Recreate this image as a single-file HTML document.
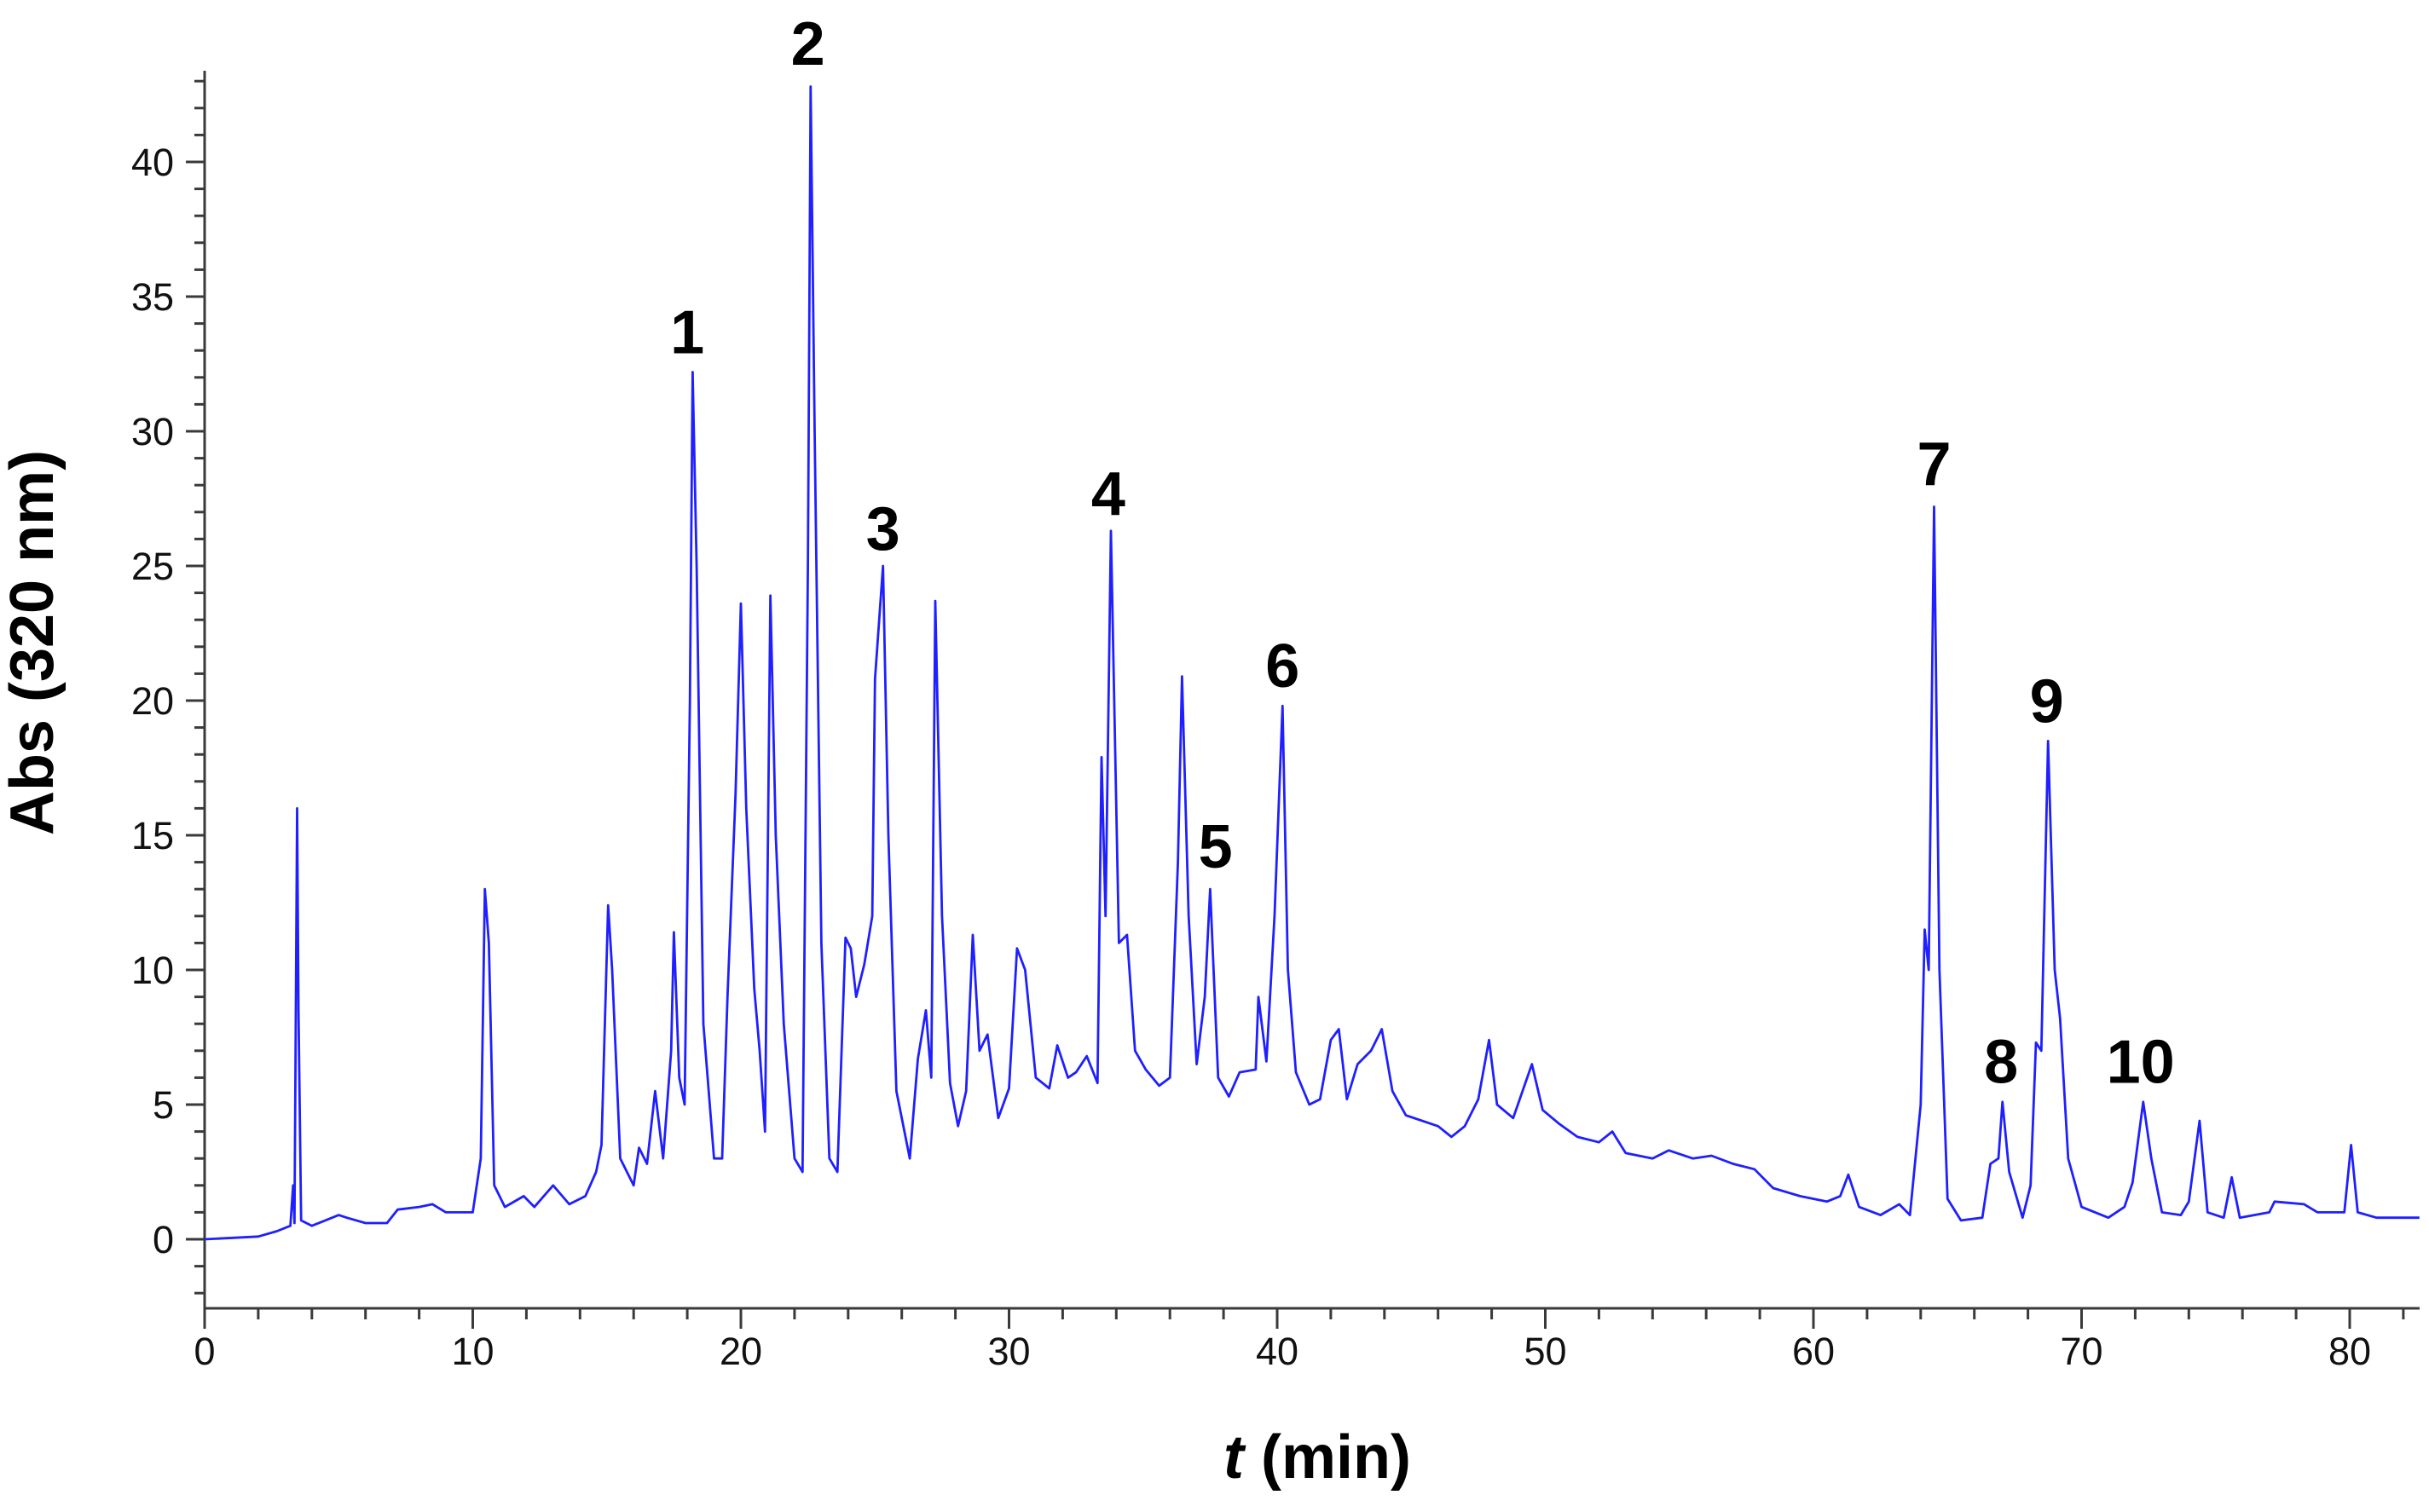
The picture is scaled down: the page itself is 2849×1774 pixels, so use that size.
<!DOCTYPE html>
<html><head><meta charset="utf-8"><style>
html,body{margin:0;padding:0;background:#fff}
svg{display:block}
</style></head><body>
<svg id="chart" width="2849" height="1774" viewBox="0 0 2849 1774" xmlns="http://www.w3.org/2000/svg">
<g id="axes"></g>
<path id="trace" fill="none" stroke="#1f1fff" stroke-width="2.8" stroke-linejoin="round"/>
<g id="labels"></g>
<text transform="translate(62,754) rotate(-90)" text-anchor="middle" font-family="Liberation Sans, sans-serif" font-weight="bold" font-size="72">Abs (320 nm)</text>
<text x="1545" y="1734" text-anchor="middle" font-family="Liberation Sans, sans-serif" font-weight="bold" font-size="72"><tspan font-style="italic">t</tspan> (min)</text>
</svg>
<script>
const times=[0,2,2.7,3.2,3.3,3.35,3.45,3.5,3.6,4,5,5.3,6,6.8,7.2,8,8.5,9,10,10.3,10.45,10.6,10.8,11.2,11.9,12.3,13,13.6,14.2,14.6,14.8,15.05,15.2,15.5,16,16.2,16.5,16.8,17.1,17.4,17.5,17.7,17.9,18.1,18.2,18.35,18.6,19,19.3,19.5,19.8,20,20.2,20.5,20.7,20.9,21.1,21.3,21.6,22,22.3,22.5,22.6,22.75,23,23.3,23.6,23.9,24.1,24.3,24.6,24.9,25.0,25.3,25.5,25.8,26,26.3,26.6,26.9,27.1,27.25,27.5,27.8,28.1,28.4,28.65,28.9,29.2,29.6,30,30.3,30.6,31,31.5,31.8,32.2,32.5,32.9,33.3,33.45,33.6,33.8,34.1,34.4,34.7,35.1,35.6,36.0,36.3,36.45,36.7,37,37.3,37.5,37.8,38.2,38.6,39.2,39.3,39.6,39.9,40.2,40.4,40.7,41.2,41.6,42,42.3,42.6,43,43.5,43.9,44.3,44.8,46,46.5,47,47.5,47.9,48.2,48.8,49.5,49.9,50.5,51.2,52,52.5,53,54,54.6,55.5,56.2,57,57.8,58.5,59.5,60.5,61,61.3,61.7,62.5,63.2,63.6,64.0,64.15,64.3,64.5,64.7,65,65.5,66.3,66.6,66.9,67.05,67.3,67.8,68.1,68.3,68.5,68.75,69,69.2,69.5,70,71,71.6,71.9,72.3,72.6,73,73.7,74,74.4,74.7,75.3,75.6,75.9,77,77.2,78.3,78.8,79.8,80.05,80.3,81,82.6];
const absorb=[0,0.1,0.3,0.5,2,0.6,16,8.5,0.7,0.5,0.9,0.8,0.6,0.6,1.1,1.2,1.3,1.0,1.0,3,13,11,2,1.2,1.6,1.2,2.0,1.3,1.6,2.5,3.5,12.4,10,3,2,3.4,2.8,5.5,3,7,11.4,6,5,20,32.2,25,8,3,3,9,16.5,23.6,16,9.3,7,4,23.9,15,8,3,2.5,25,42.8,30,11,3,2.5,11.2,10.8,9,10.2,12,20.8,25,15,5.5,4.5,3,6.7,8.5,6,23.7,12,5.8,4.2,5.5,11.3,7,7.6,4.5,5.6,10.8,10,6,5.6,7.2,6,6.2,6.8,5.8,17.9,12,26.3,11,11.3,7,6.3,5.7,6,14,20.9,12,6.5,9,13,6,5.3,6.2,6.3,9,6.6,12,19.8,10,6.2,5,5.2,7.4,7.8,5.2,6.5,7,7.8,5.5,4.6,4.2,3.8,4.2,5.2,7.4,5,4.5,6.5,4.8,4.3,3.8,3.6,4,3.2,3,3.3,3.0,3.1,2.8,2.6,1.9,1.6,1.4,1.6,2.4,1.2,0.9,1.3,0.9,5,11.5,10,27.2,10,1.5,0.7,0.8,2.8,3,5.1,2.5,0.8,2,7.3,7,18.5,10,8.2,3,1.2,0.8,1.2,2.1,5.1,3,1,0.9,1.4,4.4,1,0.8,2.3,0.8,1.0,1.4,1.3,1,1,3.5,1,0.8,0.8];
const xTickVals=[0,10,20,30,40,50,60,70,80];
const yTickVals=[0,5,10,15,20,25,30,35,40];
const peakNames=["1","2","3","4","5","6","7","8","9","10"];
const peakT=[18.0,22.5,25.3,33.7,37.7,40.2,64.5,67.0,68.7,72.2];
const peakV=[32.9,43.6,25.6,26.9,13.8,20.5,28.0,5.8,19.2,5.8];

const X0=240,XS=31.45,Y0=1454,YS=31.6;
const xs=t=>X0+t*XS, ys=v=>Y0-v*YS;
const NS="http://www.w3.org/2000/svg";
const axes=document.getElementById('axes');
function el(tag,attrs,parent){const e=document.createElementNS(NS,tag);for(const k in attrs)e.setAttribute(k,attrs[k]);parent.appendChild(e);return e;}
const col="#3a3a3a";
const ya=el('line',{x1:X0,y1:83,x2:X0,y2:1535,stroke:col,'stroke-width':3},axes);


const xa=el('line',{x1:X0,y1:1535,x2:2838,y2:1535,stroke:col,'stroke-width':3},axes);


for(let v=-2;v<=43;v++){
  const maj=v%5===0&&v>=0;
  const t=el('line',{x1:X0-(maj?22:12),y1:ys(v),x2:X0,y2:ys(v),stroke:col,'stroke-width':3},axes);
  
  
}
yTickVals.forEach(v=>{
  const t=el('text',{x:204,y:ys(v)+16,'text-anchor':'end','font-family':'Liberation Sans, sans-serif','font-size':45,fill:'#111'},axes);
  t.textContent=v;
  
  
});
for(let m=0;m<=82;m+=2){
  const maj=m%10===0;
  const t=el('line',{x1:xs(m),y1:1535,x2:xs(m),y2:1535+(maj?24:13),stroke:col,'stroke-width':3},axes);
  
  
}
xTickVals.forEach(v=>{
  const t=el('text',{x:xs(v),y:1601,'text-anchor':'middle','font-family':'Liberation Sans, sans-serif','font-size':45,fill:'#111'},axes);
  t.textContent=v;
  
  
});
let d='';
times.forEach((t,i)=>{d+=(i?'L':'M')+xs(t).toFixed(1)+' '+ys(absorb[i]).toFixed(1);});
document.getElementById('trace').setAttribute('d',d);
const lg=document.getElementById('labels');
peakNames.forEach((n,i)=>{
  const t=el('text',{x:xs(peakT[i]),y:ys(peakV[i]),'text-anchor':'middle','font-family':'Liberation Sans, sans-serif','font-weight':'bold','font-size':72,fill:'#000'},lg);
  t.textContent=n;
  
  
});
</script>
</body></html>
